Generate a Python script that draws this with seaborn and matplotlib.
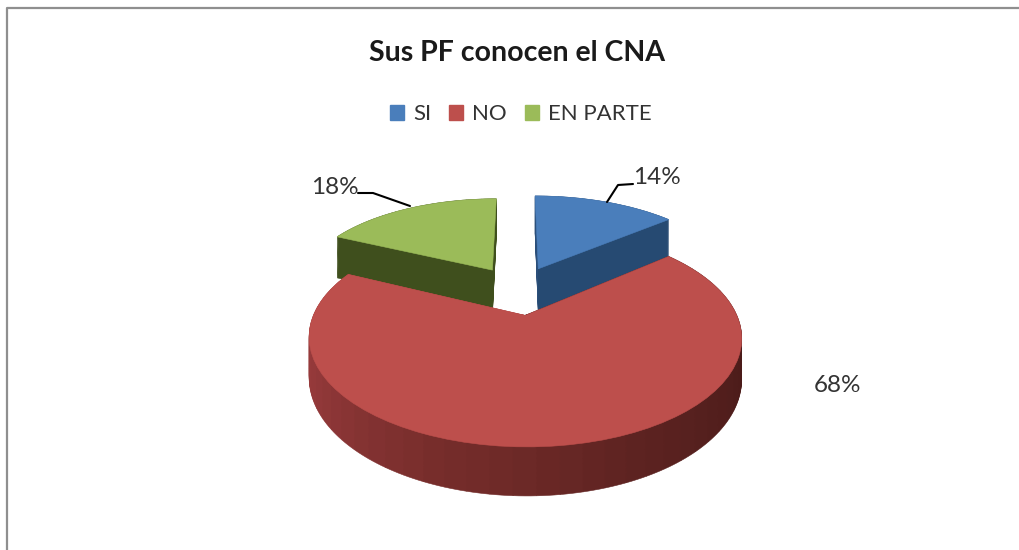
import numpy as np
import matplotlib
matplotlib.use('Agg')
import matplotlib.pyplot as plt
from matplotlib.patches import Patch
from matplotlib.transforms import Transform
import seaborn as sns

# Data
categories = ['SI', 'NO', 'EN PARTE']
values = [14, 68, 18]
title = 'Sus PF conocen el CNA'

top_colors = ['#4a7ebb', '#bd4f4c', '#9bbb59']
side_colors = [['#2b4f7a', '#264a72'],
               ['#431816', '#4a1b19', '#5a2220', '#752c2a', '#93393a', '#a8413f'],
               ['#3f4f1d', '#3f4f1d']]

# Camera settings for the tilted pie
CX, CY = 518, 289
SX, SY = 207, 97
PERSP = 0.2
EXPLODE = [0.24, 0.26, 0.24]
RADIUS = [0.97, 0.97, 0.94]
DEPTH = [46, 37, 46]
LAYERS = 40

sns.set_theme(style='white')
plt.rcParams['font.family'] = ['Lato', 'DejaVu Sans']


class Tilt(Transform):
    # unit pie disc -> image pixels, further away means smaller
    input_dims = 2
    output_dims = 2

    def __init__(self, drop=0):
        super().__init__()
        self.drop = drop

    def transform_non_affine(self, values):
        x, y = np.asarray(values).T
        w = 1 + PERSP * y
        return np.column_stack([CX + SX * x / w, CY - SY * y / w + self.drop / w])


fig = plt.figure(figsize=(10.2, 5.5), dpi=100)
ax = fig.add_axes([0, 0, 1, 1])

# start of each slice as a fraction of the circle
starts = np.cumsum([0] + values[:-1]) / sum(values)
fracs = np.array(values) / sum(values)


def draw_layer(i, drop, pieces, colors):
    mid = 2 * np.pi * (starts[i] + fracs[i] / 2)
    center = (EXPLODE[i] * np.sin(mid), EXPLODE[i] * np.cos(mid))
    wedges, _ = ax.pie(pieces, colors=colors, center=center, normalize=False, radius=RADIUS[i],
                       startangle=90 - 360 * starts[i], counterclock=False)
    for w in wedges:
        w.set_edgecolor(w.get_facecolor())
        w.set_linewidth(0.4)
        w.set_transform(Tilt(drop) + ax.transData)


# back slices first, the big red one goes on top of their walls
for i in [0, 2, 1]:
    n = 48 if i == 1 else 12
    shades = sns.blend_palette(side_colors[i], n)
    for drop in np.linspace(DEPTH[i], 0, LAYERS):
        draw_layer(i, drop, [fracs[i] / n] * n, shades)
    draw_layer(i, 0, [fracs[i]], [top_colors[i]])

ax.set_aspect('auto')
ax.set_xlim(0, 1020)
ax.set_ylim(550, 0)

# chart frame
ax.plot([7, 7, 1020], [550, 8, 8], color='#8f8f8f', lw=1.6)

ax.text(517, 53, title, ha='center', va='center', fontsize=20.5, fontweight='bold', color='#1a1a1a')

handles = [Patch(color=c) for c in top_colors]
ax.legend(handles, categories, ncol=3, loc='center', bbox_to_anchor=(0.5105, 0.792), frameon=False,
          fontsize=16, handlelength=0.65, handleheight=0.65, handletextpad=0.4, columnspacing=0.8,
          labelcolor='#333333')

# leader lines for the two back slices
ax.plot([633, 618, 607], [184, 185, 202], color='black', lw=1.5)
ax.plot([358, 373, 410], [193, 193, 206], color='black', lw=1.5)

ax.text(657, 178, f'{values[0]}%', ha='center', va='center', fontsize=17.5, color='#333333')
ax.text(335, 187, f'{values[2]}%', ha='center', va='center', fontsize=17.5, color='#333333')
ax.text(838, 385, f'{values[1]}%', ha='center', va='center', fontsize=17.5, color='#333333')

plt.savefig('out.png', dpi=100)
